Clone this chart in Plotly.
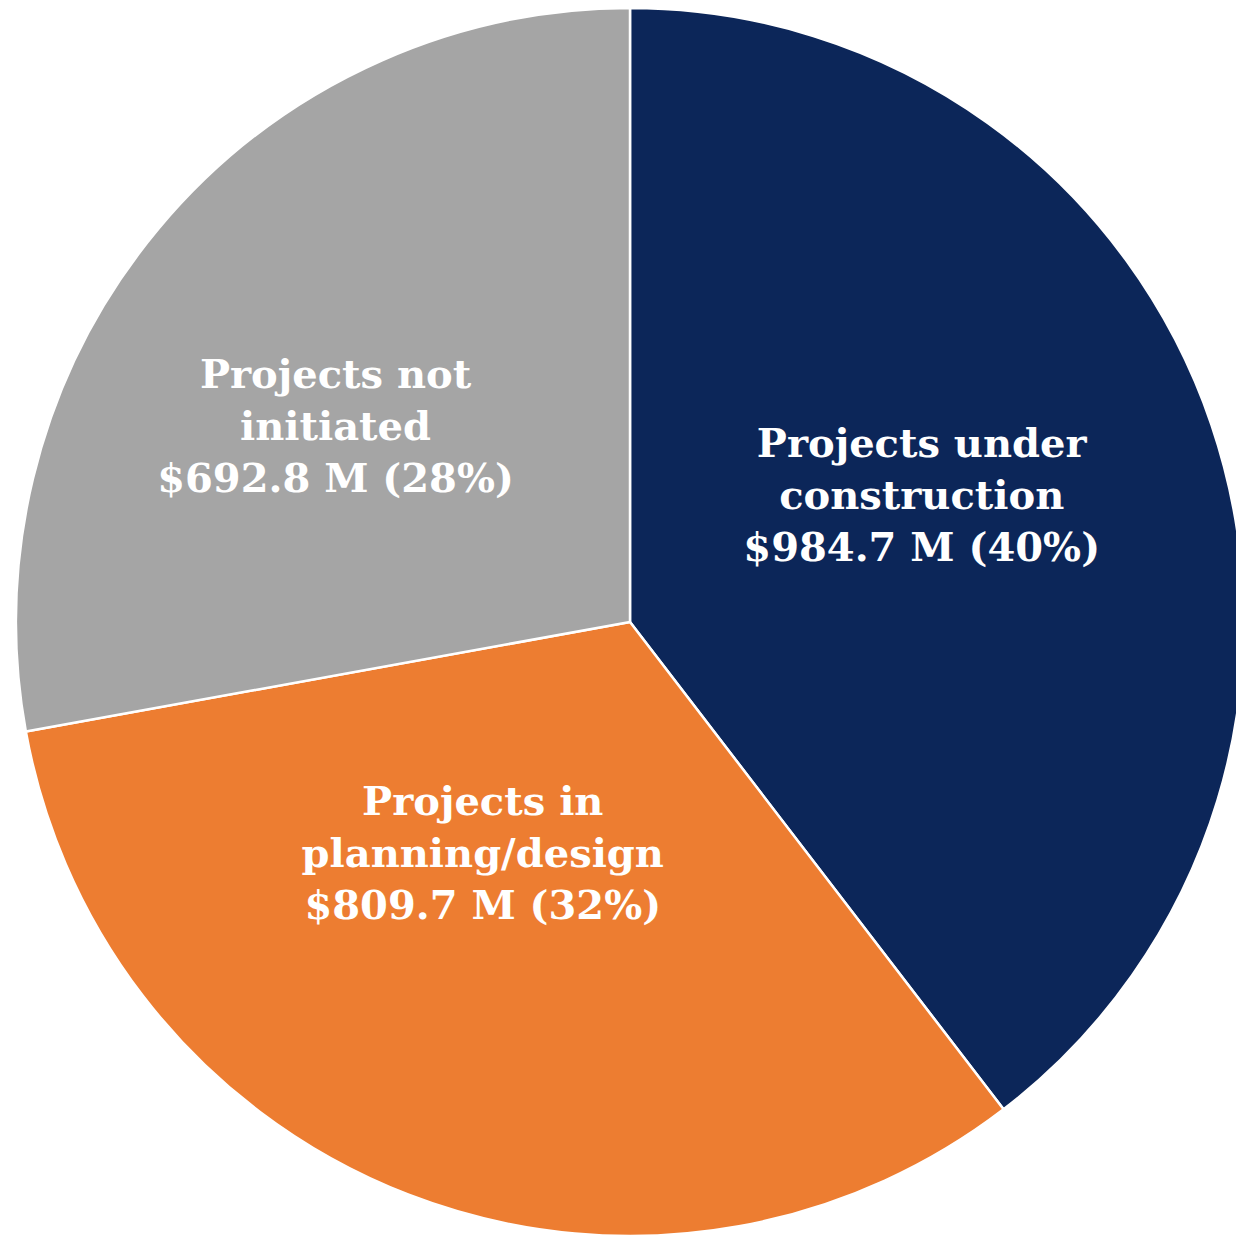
import plotly.graph_objects as go

categories = ["Projects under<br>construction", "Projects in<br>planning/design", "Projects not<br>initiated"]
values = [984.7, 809.7, 692.8]
percent_labels = ["40%", "32%", "28%"]
colors = ["#0C2659", "#ED7D31", "#A5A5A5"]

# blank lines / trailing spaces nudge plotly's inside-text placement
pad_top = [0, 0, 1]
pad_bottom = [1, 3, 0]
pad_right = [1, 4, 4]

NB = "\u00a0"


def build(c, v, p, t, b, r):
    lines = c.split("<br>") + [f"${v} M ({p})"]
    lines = [ln + NB * r for ln in lines]
    return "<br>".join([NB] * t + lines + [NB] * b)


texts = [build(*args) for args in zip(categories, values, percent_labels, pad_top, pad_bottom, pad_right)]

W, H = 1244, 1236
fig = go.Figure(go.Pie(
    labels=categories,
    values=values,
    text=texts,
    textinfo="text",
    textposition="inside",
    insidetextorientation="horizontal",
    sort=False,
    direction="clockwise",
    rotation=0,
    marker=dict(colors=colors, line=dict(color="white", width=2.5)),
    textfont=dict(family="DejaVu Serif", size=40, color="white", weight="bold"),
    hoverinfo="skip",
    domain=dict(x=[8 / W, 1236 / W], y=[8 / H, 1.0]),
))

fig.update_layout(
    width=W, height=H,
    margin=dict(l=0, r=0, t=0, b=0),
    showlegend=False,
    paper_bgcolor="white",
    uniformtext=dict(minsize=40, mode="show"),
)

fig.write_html("out.html")
